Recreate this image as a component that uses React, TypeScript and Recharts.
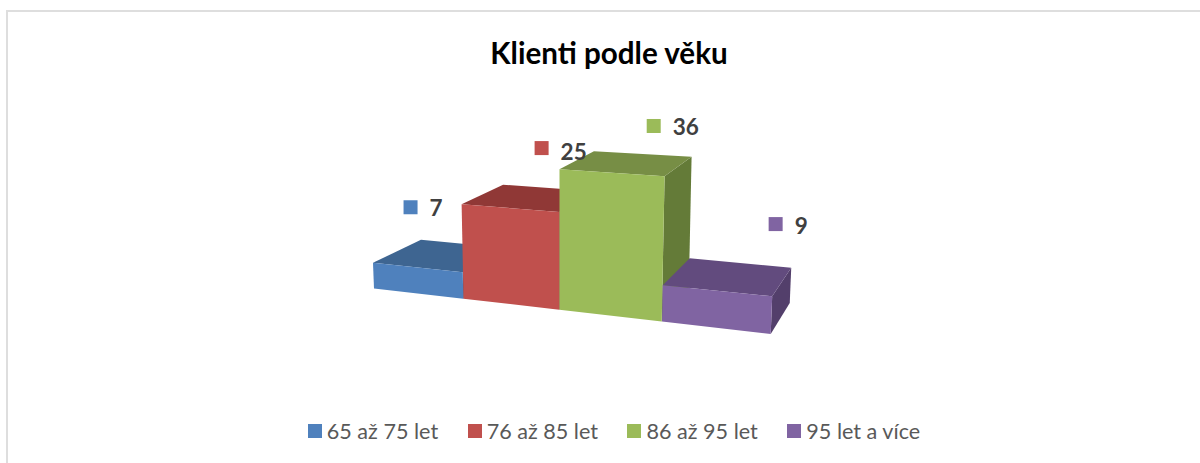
import { BarChart, Bar, XAxis, YAxis, Legend, LabelList } from 'recharts'

const categories = ['65 až 75 let', '76 až 85 let', '86 až 95 let', '95 let a více']
const clients = [7, 25, 36, 9]

const frontColors = ['#4F81BD', '#C0504D', '#9BBB59', '#8064A2']
const topColors = ['#3E6591', '#903836', '#778E45', '#624B7E']
const sideColors = ['#35577F', '#7D302E', '#647B38', '#533F6B']

// where the label sits relative to the middle of the bar's front top edge
const labelNudge = [[-6.5, -60.2], [32, -60], [42.5, -46.6], [59, -66.6]]
const textDrop = [1, 4, 1, 2]

const data = categories.map((name, i) => ({ name, value: clients[i] }))

const W = 1200
const H = 463
const LEFT = 374
const RIGHT = 771
const BAND = (RIGHT - LEFT) / categories.length

// flat band position -> floor position of the tilted 3D scene
const floorX = (u: number) => LEFT + 86.25 * u + 3.25 * u * u

const front = (u: number, h: number) => {
  const bx = floorX(u)
  return {
    bx,
    x: bx + h * (bx - 560) * 0.0002,
    y: 288.5 + (bx - LEFT) * 0.1146 - h * (1 + 0.00033 * (bx - 555)),
  }
}

const back = (u: number, h: number) => {
  const p = front(u, h)
  return {
    x: p.x + 48 - (p.bx - LEFT) * 0.073,
    y: p.y - (25 + (p.bx - LEFT) * 0.015 - h * 0.07),
  }
}

const poly = (pts: { x: number; y: number }[]) => pts.map(p => `${p.x},${p.y}`).join(' ')

const Box3D = ({ x, width, height, index }: any) => {
  const u0 = (x - LEFT) / BAND
  const u1 = (x + width - LEFT) / BAND
  const fl0 = front(u0, 0), fr0 = front(u1, 0), fl = front(u0, height), fr = front(u1, height)
  const bl = back(u0, height), br = back(u1, height), br0 = back(u1, 0)
  return (
    <g>
      <polygon points={poly([fr, br, br0, fr0])} fill={sideColors[index]} />
      <polygon points={poly([fl, bl, br, fr])} fill={topColors[index]} />
      <polygon points={poly([fl0, fl, fr, fr0])} fill={frontColors[index]} />
    </g>
  )
}

const ValueLabel = ({ x, width, height, value, index }: any) => {
  const p = front((x + width / 2 - LEFT) / BAND, height)
  const cx = p.x + labelNudge[index][0]
  const cy = p.y + labelNudge[index][1]
  return (
    <g>
      <rect x={cx - 7} y={cy - 7} width={14} height={14} fill={frontColors[index]} />
      <text x={cx + 19} y={cy + 8 + textDrop[index]} fontFamily="Lato" fontSize={22.5} fontWeight={700} fill="#404040">{value}</text>
    </g>
  )
}

const LegendRow = () => (
  <div style={{ display: 'flex', justifyContent: 'center', fontFamily: 'Lato', fontSize: 21.6, color: '#595959', lineHeight: '28px' }}>
    {categories.map((c, i) => (
      <span key={c} style={{ display: 'flex', alignItems: 'center', marginRight: i < 3 ? 29.5 : 0 }}>
        <span style={{ width: 14, height: 14, background: frontColors[i], marginRight: 5 }} />
        {c}
      </span>
    ))}
  </div>
)

export default function App() {
  return (
    <div style={{ position: 'absolute', left: 0, top: 0, width: W, height: H, background: '#fff', overflow: 'hidden' }}>
      <div style={{ position: 'absolute', left: 6, top: 10, right: 0, bottom: 0, borderLeft: '2px solid #dedede', borderTop: '2px solid #dedede' }} />
      <div style={{ position: 'absolute', left: 0, top: 35, width: 1218, textAlign: 'center', fontFamily: 'Lato', fontWeight: 700, fontSize: 29.6, color: '#000' }}>
        Klienti podle věku
      </div>
      <BarChart width={W} height={H} data={data} barCategoryGap={0} margin={{ top: 100, right: W - RIGHT, bottom: 167, left: LEFT }} style={{ position: 'absolute', left: 0, top: 0 }}>
        <XAxis dataKey="name" hide />
        <YAxis domain={[0, 40]} hide />
        <Legend content={<LegendRow />} height={40} wrapperStyle={{ left: 14, width: W, bottom: 6 }} />
        <Bar dataKey="value" shape={<Box3D />} isAnimationActive={false}>
          <LabelList dataKey="value" content={<ValueLabel />} />
        </Bar>
      </BarChart>
    </div>
  )
}
